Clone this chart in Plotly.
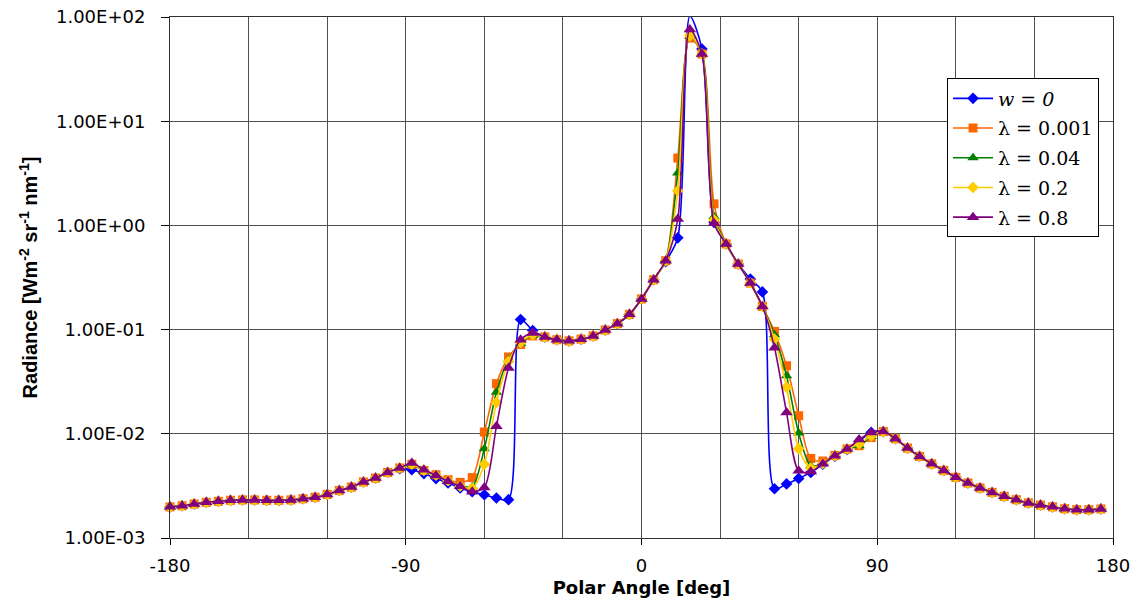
import plotly.graph_objects as go

# Polar angle grid [deg]
angle = [
    -180.00, -175.38, -170.77, -166.15, -161.54, -156.92, -152.31, -147.69, -143.08, -138.46,
    -133.85, -129.23, -124.62, -120.00, -115.38, -110.77, -106.15, -101.54, -96.92, -92.31,
    -87.69, -83.08, -78.46, -73.85, -69.23, -64.62, -60.00, -55.38, -50.77, -46.15,
    -41.54, -36.92, -32.31, -27.69, -23.08, -18.46, -13.85, -9.23, -4.62, 0.00,
    4.62, 9.23, 13.85, 18.46, 23.08, 27.69, 32.31, 36.92, 41.54, 46.15,
    50.77, 55.38, 60.00, 64.62, 69.23, 73.85, 78.46, 83.08, 87.69, 92.31,
    96.92, 101.54, 106.15, 110.77, 115.38, 120.00, 124.62, 129.23, 133.85, 138.46,
    143.08, 147.69, 152.31, 156.92, 161.54, 166.15, 170.77, 175.38,
]

# Radiance [W m^-2 sr^-1 nm^-1]
rad_w0 = [
    1.99e-3, 2.04e-3, 2.12e-3, 2.20e-3, 2.25e-3, 2.30e-3, 2.32e-3, 2.32e-3, 2.30e-3, 2.30e-3,
    2.32e-3, 2.38e-3, 2.46e-3, 2.62e-3, 2.86e-3, 3.08e-3, 3.45e-3, 3.76e-3, 4.26e-3, 4.62e-3,
    4.52e-3, 4.15e-3, 3.72e-3, 3.37e-3, 3.02e-3, 2.78e-3, 2.60e-3, 2.42e-3, 2.33e-3, 0.125,
    0.098, 0.085, 0.080, 0.078, 0.081, 0.087, 0.099, 0.114, 0.140, 0.197,
    0.301, 0.450, 0.76, 102.0, 49.3, 1.07, 0.664, 0.426, 0.306, 0.230,
    2.97e-3, 3.30e-3, 3.73e-3, 4.26e-3, 5.10e-3, 6.10e-3, 7.10e-3, 8.50e-3, 1.03e-2, 1.05e-2,
    8.97e-3, 7.30e-3, 6.07e-3, 5.15e-3, 4.45e-3, 3.82e-3, 3.37e-3, 3.02e-3, 2.74e-3, 2.51e-3,
    2.33e-3, 2.17e-3, 2.07e-3, 1.99e-3, 1.91e-3, 1.87e-3, 1.87e-3, 1.90e-3,
]
rad_l0001 = [
    1.99e-3, 2.04e-3, 2.12e-3, 2.20e-3, 2.25e-3, 2.30e-3, 2.32e-3, 2.32e-3, 2.30e-3, 2.30e-3,
    2.32e-3, 2.38e-3, 2.46e-3, 2.62e-3, 2.86e-3, 3.08e-3, 3.45e-3, 3.76e-3, 4.26e-3, 4.70e-3,
    5.10e-3, 4.45e-3, 4.05e-3, 3.63e-3, 3.42e-3, 3.80e-3, 1.04e-2, 3.03e-2, 5.46e-2, 7.20e-2,
    0.087, 0.085, 0.080, 0.078, 0.081, 0.087, 0.099, 0.114, 0.140, 0.197,
    0.301, 0.458, 4.43, 62.8, 44.2, 1.61, 0.664, 0.426, 0.280, 0.167,
    9.6e-2, 4.5e-2, 1.49e-2, 5.80e-3, 5.48e-3, 6.20e-3, 7.15e-3, 7.69e-3, 9.20e-3, 1.05e-2,
    8.97e-3, 7.30e-3, 6.07e-3, 5.15e-3, 4.45e-3, 3.82e-3, 3.37e-3, 3.02e-3, 2.74e-3, 2.51e-3,
    2.33e-3, 2.17e-3, 2.07e-3, 1.99e-3, 1.91e-3, 1.87e-3, 1.87e-3, 1.90e-3,
]
rad_l004 = [
    1.99e-3, 2.04e-3, 2.12e-3, 2.20e-3, 2.25e-3, 2.30e-3, 2.32e-3, 2.32e-3, 2.30e-3, 2.30e-3,
    2.32e-3, 2.38e-3, 2.46e-3, 2.62e-3, 2.86e-3, 3.08e-3, 3.45e-3, 3.76e-3, 4.26e-3, 4.70e-3,
    5.05e-3, 4.40e-3, 3.95e-3, 3.50e-3, 3.20e-3, 3.10e-3, 7.20e-3, 2.50e-2, 5.14e-2, 7.40e-2,
    0.088, 0.085, 0.080, 0.078, 0.081, 0.087, 0.099, 0.114, 0.140, 0.197,
    0.301, 0.458, 3.18, 65.0, 44.2, 1.22, 0.664, 0.426, 0.280, 0.167,
    8.9e-2, 3.6e-2, 1.02e-2, 4.94e-3, 5.20e-3, 6.17e-3, 7.15e-3, 7.70e-3, 9.40e-3, 1.05e-2,
    8.97e-3, 7.30e-3, 6.07e-3, 5.15e-3, 4.45e-3, 3.82e-3, 3.37e-3, 3.02e-3, 2.74e-3, 2.51e-3,
    2.33e-3, 2.17e-3, 2.07e-3, 1.99e-3, 1.91e-3, 1.87e-3, 1.87e-3, 1.90e-3,
]
rad_l02 = [
    1.99e-3, 2.04e-3, 2.12e-3, 2.20e-3, 2.25e-3, 2.30e-3, 2.32e-3, 2.32e-3, 2.30e-3, 2.30e-3,
    2.32e-3, 2.38e-3, 2.46e-3, 2.62e-3, 2.86e-3, 3.08e-3, 3.45e-3, 3.76e-3, 4.26e-3, 4.70e-3,
    5.10e-3, 4.45e-3, 4.00e-3, 3.55e-3, 3.15e-3, 3.00e-3, 5.10e-3, 2.00e-2, 4.95e-2, 7.50e-2,
    0.089, 0.085, 0.080, 0.078, 0.081, 0.087, 0.099, 0.114, 0.140, 0.197,
    0.301, 0.458, 2.15, 66.0, 44.2, 1.13, 0.664, 0.426, 0.280, 0.167,
    8.1e-2, 2.8e-2, 7.20e-3, 4.70e-3, 5.20e-3, 6.17e-3, 7.15e-3, 8.00e-3, 9.50e-3, 1.05e-2,
    8.97e-3, 7.30e-3, 6.07e-3, 5.15e-3, 4.45e-3, 3.82e-3, 3.37e-3, 3.02e-3, 2.74e-3, 2.51e-3,
    2.33e-3, 2.17e-3, 2.07e-3, 1.99e-3, 1.91e-3, 1.87e-3, 1.87e-3, 1.90e-3,
]
rad_l08 = [
    1.99e-3, 2.04e-3, 2.12e-3, 2.20e-3, 2.25e-3, 2.30e-3, 2.32e-3, 2.32e-3, 2.30e-3, 2.30e-3,
    2.32e-3, 2.38e-3, 2.46e-3, 2.62e-3, 2.86e-3, 3.08e-3, 3.45e-3, 3.76e-3, 4.26e-3, 4.70e-3,
    5.24e-3, 4.52e-3, 3.99e-3, 3.50e-3, 3.13e-3, 2.78e-3, 3.06e-3, 1.18e-2, 4.28e-2, 8.00e-2,
    0.093, 0.085, 0.080, 0.078, 0.081, 0.087, 0.099, 0.114, 0.140, 0.197,
    0.301, 0.458, 1.15, 76.0, 44.2, 1.05, 0.664, 0.426, 0.280, 0.167,
    6.7e-2, 1.6e-2, 4.43e-3, 4.33e-3, 5.16e-3, 6.17e-3, 7.15e-3, 8.80e-3, 1.03e-2, 1.05e-2,
    8.97e-3, 7.30e-3, 6.07e-3, 5.15e-3, 4.45e-3, 3.82e-3, 3.37e-3, 3.02e-3, 2.74e-3, 2.51e-3,
    2.33e-3, 2.17e-3, 2.07e-3, 1.99e-3, 1.91e-3, 1.87e-3, 1.87e-3, 1.90e-3,
]

series_names = ["<i>w</i> = <i>0</i>", "λ = 0.001", "λ = 0.04", "λ = 0.2", "λ = 0.8"]
series_values = [rad_w0, rad_l0001, rad_l004, rad_l02, rad_l08]
series_colors = ["#0000FF", "#FF6600", "#008000", "#FFCC00", "#800080"]
series_symbols = ["diamond", "square", "triangle-up", "diamond", "triangle-up"]
series_sizes = [9, 9, 10, 9, 11]

y_tickvals = [1e-3, 1e-2, 1e-1, 1e0, 1e1, 1e2]
y_ticktext = ["1.00E-03", "1.00E-02", "1.00E-01", "1.00E+00", "1.00E+01", "1.00E+02"]
x_tickvals = [-180, -90, 0, 90, 180]
x_ticktext = ["-180", "-90", "0", "90", "180"]

fig = go.Figure()
for i, (name, vals, col, sym, sz) in enumerate(
        zip(series_names, series_values, series_colors, series_symbols, series_sizes)):
    fig.add_trace(go.Scatter(
        x=angle, y=vals, name=name, mode="lines+markers",
        line=dict(color=col, width=1.6, shape="spline", smoothing=0.8),
        marker=dict(symbol=sym, size=sz, color=col, line=dict(width=0)),
        legendgroup=f"g{i}", cliponaxis=False,
    ))

grid_col = "#505050"
fig.update_layout(
    width=1140, height=600,
    margin=dict(l=170, r=27, t=17, b=62),
    paper_bgcolor="white", plot_bgcolor="white",
    font=dict(family="DejaVu Sans", size=18, color="black"),
    showlegend=True,
    legend=dict(
        x=0.824, y=0.882, xanchor="left", yanchor="top",
        bgcolor="white", bordercolor="black", borderwidth=1,
        font=dict(family="DejaVu Serif", size=19, color="black"),
        tracegroupgap=2, itemwidth=40,
    ),
    xaxis=dict(
        range=[-180, 180], tickvals=x_tickvals, ticktext=x_ticktext,
        ticks="outside", ticklen=6, tickcolor="black", ticklabelstandoff=5,
        showline=True, linecolor="#333333", mirror=True, linewidth=1,
        showgrid=True, gridcolor=grid_col, gridwidth=1, zeroline=False,
        minor=dict(dtick=30, tick0=0, showgrid=True, gridcolor=grid_col, gridwidth=1, ticks=""),
        title=dict(text="<b>Polar Angle [deg]</b>", font=dict(family="DejaVu Sans", size=18), standoff=6),
        automargin=False,
    ),
    yaxis=dict(
        type="log", range=[-3, 2], tickvals=y_tickvals, ticktext=y_ticktext,
        ticks="outside", ticklen=8, tickcolor="black", ticklabelstandoff=12,
        showline=True, linecolor="#333333", mirror=True, linewidth=1,
        showgrid=True, gridcolor=grid_col, gridwidth=1, zeroline=False,
        title=dict(
            text="<b>Radiance [Wm<sup>-2</sup> sr<sup>-1</sup> nm<sup>-1</sup>]</b>",
            font=dict(family="Liberation Sans", size=20), standoff=12),
        automargin=False,
    ),
)

fig.write_html("out.html")
